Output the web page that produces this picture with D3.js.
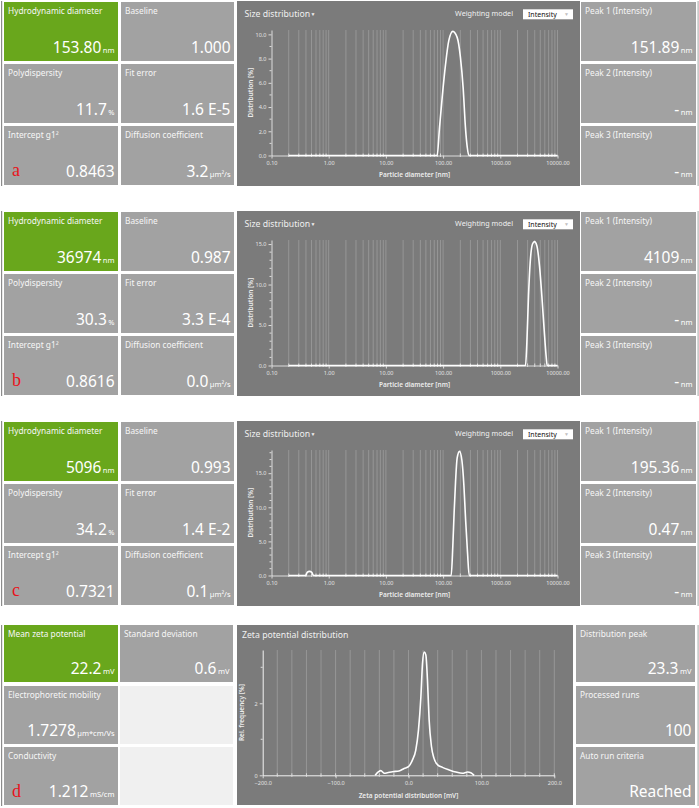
<!DOCTYPE html>
<html>
<head>
<meta charset="utf-8">
<script src="https://cdn.jsdelivr.net/npm/d3@7"></script>
<style>
    body { margin: 0; background: #fff; }
    svg { display: block; font-family: "Noto Sans", sans-serif; }
</style>
</head>
<body>
<svg id="chart" width="699" height="808"></svg>
<script>
    // ---- tile texts ----
    var sizeLabels = ['Hydrodynamic diameter', 'Baseline', 'Polydispersity', 'Fit error', 'Intercept g1²', 'Diffusion coefficient'];
    var peakLabels = ['Peak 1 (Intensity)', 'Peak 2 (Intensity)', 'Peak 3 (Intensity)'];
    var sizeValuesA = [['153.80', 'nm'], ['1.000', ''], ['11.7', '%'], ['1.6 E-5', ''], ['0.8463', ''], ['3.2', 'µm²/s']];
    var sizeValuesB = [['36974', 'nm'], ['0.987', ''], ['30.3', '%'], ['3.3 E-4', ''], ['0.8616', ''], ['0.0', 'µm²/s']];
    var sizeValuesC = [['5096', 'nm'], ['0.993', ''], ['34.2', '%'], ['1.4 E-2', ''], ['0.7321', ''], ['0.1', 'µm²/s']];
    var peakValuesA = [['151.89', 'nm'], ['-', 'nm'], ['-', 'nm']];
    var peakValuesB = [['4109', 'nm'], ['-', 'nm'], ['-', 'nm']];
    var peakValuesC = [['195.36', 'nm'], ['0.47', 'nm'], ['-', 'nm']];
    var zetaLabels = ['Mean zeta potential', 'Standard deviation', 'Electrophoretic mobility', '', 'Conductivity', ''];
    var zetaValues = [['22.2', 'mV'], ['0.6', 'mV'], ['1.7278', 'µm*cm/Vs'], null, ['1.212', 'mS/cm'], null];
    var zetaRightLabels = ['Distribution peak', 'Processed runs', 'Auto run criteria'];
    var zetaRightValues = [['23.3', 'mV'], ['100', ''], ['Reached', '']];
    var panelTags = ['a', 'b', 'c', 'd'];

    // ---- axes ----
    var diamTicks = [0.1, 1, 10, 100, 1000, 10000];
    var distTicksA = [0, 2, 4, 6, 8, 10];
    var distTicksB = [0, 5, 10, 15];
    var distTicksC = [0, 5, 10, 15];
    var distMaxA = 10.36, distMaxB = 15.5, distMaxC = 18.4;
    var zetaTicks = [-200, -100, 0, 100, 200];
    var freqTicks = [0, 2];
    var freqMax = 3.48;

    // ---- series ----
    var diamA = [0.2, 78.7, 86.5, 96.4, 110.2, 126, 148, 176, 201, 224, 246, 264, 282, 10000];
    var distA = [0, 0, 2.3, 4.8, 7.5, 9.5, 10.25, 9.75, 8.1, 5.6, 2.3, 0.7, 0, 0];
    var diamB = [0.2, 2759, 2912, 3113, 3329, 3657, 3963, 4354, 4846, 5324, 5847, 6340, 6592, 10000];
    var distB = [0, 0, 2.8, 8.6, 12.7, 15.0, 15.3, 14.8, 12.3, 8.6, 4.4, 1.1, 0, 0];
    var diamC = [0.2, 0.398, 0.420, 0.461, 0.507, 0.542, 138.4, 148, 156, 165, 176, 193.6, 213, 231, 247, 267, 286, 10000];
    var distC = [0, 0, 0.45, 0.6, 0.45, 0, 0, 4.4, 9.3, 13.7, 17.2, 18.2, 16.9, 13.2, 8.3, 3.4, 0, 0];
    var zetaMv = [-45.7, -41, -38, -33, -29, -22, -13, -6, 0, 5.5, 10, 13.7, 17, 19.2, 21.5, 23.8, 26, 28.3, 31.5, 35, 40, 46.6, 55.8, 65, 74, 81, 85.5, 90];
    var zetaFreq = [0, 0.1, 0.13, 0.055, 0.07, 0.1, 0.12, 0.19, 0.24, 0.43, 0.7, 1.26, 2.18, 3.1, 3.42, 3.34, 2.65, 1.54, 0.8, 0.47, 0.29, 0.22, 0.15, 0.09, 0.055, 0.09, 0.07, 0];

    var GREEN = '#69a71c', TILE = '#a2a2a2', PANEL = '#7b7b7b', EMPTY = '#f0f0f0';
    var svg = d3.select('#chart');

    function tile(x, y, w, h, fill, label, val) {
        svg.append('rect').attr('x', x).attr('y', y).attr('width', w).attr('height', h).attr('fill', fill);
        if (label) {
            svg.append('text').attr('x', x + 4).attr('y', y + 11.5)
                .attr('fill', '#f6f6f6').style('font-size', '8.3px').text(label);
        }
        if (val) {
            var t = svg.append('text').attr('x', x + w - 3.5).attr('y', y + h - 8)
                .attr('text-anchor', 'end').attr('fill', '#fff');
            t.append('tspan').style('font-size', '15.5px').text(val[0]);
            if (val[1]) t.append('tspan').attr('dx', 1.5).style('font-size', '7.5px').text(val[1]);
        }
    }

    function edges(top, h) {
        svg.append('rect').attr('x', 1).attr('y', top).attr('width', 1.2).attr('height', h).attr('fill', '#8c8c8c');
        svg.append('rect').attr('x', 697.5).attr('y', top).attr('width', 1.2).attr('height', h).attr('fill', '#b4b4b4');
    }

    function tag(y, s) {
        svg.append('text').attr('x', 12).attr('y', y).attr('fill', '#e8141c')
            .style('font-family', '"Liberation Serif", serif').style('font-size', '18px').text(s);
    }

    // draws the plot frame, grid, axes and series
    function plot(g, x, y, yTicks, yMinor, xFmt, yFmt, grid, xMinor, xs, ys, xTitle, yTitle, xTitleY) {
        var x0 = x.range()[0], x1 = x.range()[1], yb = y.range()[0], yt = y.range()[1];
        g.selectAll('line.grid').data(grid).enter().append('line')
            .attr('x1', function(d) { return x(d); }).attr('x2', function(d) { return x(d); })
            .attr('y1', yt).attr('y2', yb).attr('stroke', '#9d9d9d').attr('stroke-width', 0.8);

        var ax = g.append('g').attr('transform', 'translate(0,' + yb + ')')
            .call(d3.axisBottom(x).tickValues(xTicksOf(x)).tickFormat(xFmt).tickSize(3).tickSizeOuter(0).tickPadding(3));
        var ay = g.append('g').attr('transform', 'translate(' + x0 + ',0)')
            .call(d3.axisLeft(y).tickValues(yTicks).tickFormat(yFmt).tickSize(3).tickSizeOuter(0).tickPadding(2));
        [ax, ay].forEach(function(a) {
            a.select('.domain').attr('stroke', '#dcdcdc');
            a.selectAll('.tick line').attr('stroke', '#dcdcdc');
            a.selectAll('.tick text').attr('fill', '#e4e4e4').style('font-size', '5.5px').style('font-family', '"Noto Sans", sans-serif');
        });
        g.selectAll('line.xm').data(xMinor).enter().append('line')
            .attr('x1', function(d) { return x(d); }).attr('x2', function(d) { return x(d); })
            .attr('y1', yb - 2).attr('y2', yb + 1.5).attr('stroke', '#dcdcdc');
        g.selectAll('line.ym').data(yMinor).enter().append('line')
            .attr('x1', x0 - 2).attr('x2', x0)
            .attr('y1', function(d) { return y(d); }).attr('y2', function(d) { return y(d); }).attr('stroke', '#dcdcdc');

        var line = d3.line().x(function(d) { return x(d[0]); }).y(function(d) { return y(d[1]); }).curve(d3.curveMonotoneX);
        g.append('path').datum(d3.zip(xs, ys)).attr('d', line)
            .attr('fill', 'none').attr('stroke', '#fff').attr('stroke-width', 1.6);

        g.append('text').attr('x', (x0 + x1) / 2).attr('y', xTitleY).attr('text-anchor', 'middle')
            .attr('fill', '#ececec').style('font-size', '6.5px').style('font-weight', 600).text(xTitle);
        g.append('text').attr('transform', 'translate(' + (x0 - 19) + ',' + ((yt + yb) / 2) + ') rotate(-90)')
            .attr('text-anchor', 'middle').attr('fill', '#ececec').style('font-size', '6.5px').style('font-weight', 600).text(yTitle);
    }

    function xTicksOf(x) {
        return x.type === 'log' ? diamTicks : zetaTicks;
    }

    function minorLog() {
        var m = [];
        for (var e = -1; e < 4; e++) {
            for (var k = 2; k <= 9; k++) m.push(k * Math.pow(10, e));
        }
        return m;
    }

    function sizePanel(top, values, peaks, xs, ys, yTicks, yMax, yMinorStep, letter) {
        edges(top, 185);
        tile(4, top + 1, 114, 59, GREEN, sizeLabels[0], values[0]);
        tile(121, top + 1, 113, 59, TILE, sizeLabels[1], values[1]);
        tile(4, top + 63, 114, 59, TILE, sizeLabels[2], values[2]);
        tile(121, top + 63, 113, 59, TILE, sizeLabels[3], values[3]);
        tile(4, top + 125, 114, 59, TILE, sizeLabels[4], values[4]);
        tile(121, top + 125, 113, 59, TILE, sizeLabels[5], values[5]);
        for (var i = 0; i < 3; i++) tile(581, top + 1 + i * 62, 115, 59, TILE, peakLabels[i], peaks[i]);
        tag(top + 175, letter);

        var g = svg.append('g');
        g.append('rect').attr('x', 237).attr('y', top).attr('width', 343).attr('height', 185).attr('fill', PANEL);
        g.append('text').attr('x', 244.5).attr('y', top + 15.5).attr('fill', '#f0f0f0').style('font-size', '8.7px').text('Size distribution');
        g.append('text').attr('x', 310.5).attr('y', top + 14.5).attr('fill', '#f0f0f0').style('font-size', '5px').text('▼');
        g.append('text').attr('x', 513).attr('y', top + 15).attr('text-anchor', 'end').attr('fill', '#f0f0f0').style('font-size', '7.2px').text('Weighting model');
        g.append('rect').attr('x', 523).attr('y', top + 8.3).attr('width', 50).attr('height', 10).attr('fill', '#fff');
        g.append('text').attr('x', 528).attr('y', top + 15.6).attr('fill', '#111').style('font-size', '7px').text('Intensity');
        g.append('text').attr('x', 564).attr('y', top + 15).attr('fill', '#c0c0c0').style('font-size', '5px').text('▼');

        var x = d3.scaleLog().domain([0.1, 10000]).range([271.5, 557.5]);
        x.type = 'log';
        var y = d3.scaleLinear().domain([0, yMax]).range([top + 154.5, top + 29]);
        var yMinor = d3.range(0, yMax, yMinorStep).filter(function(v) { return yTicks.indexOf(v) < 0; });
        var grid = minorLog().concat([1, 10, 100, 1000, 10000]);
        plot(g, x, y, yTicks, yMinor, d3.format('.2f'), d3.format('.1f'), grid, minorLog(),
            xs, ys, 'Particle diameter [nm]', 'Distribution [%]', top + 175.5);
    }

    sizePanel(1, sizeValuesA, peakValuesA, diamA, distA, distTicksA, distMaxA, 1, panelTags[0]);
    sizePanel(211, sizeValuesB, peakValuesB, diamB, distB, distTicksB, distMaxB, 1, panelTags[1]);
    sizePanel(421, sizeValuesC, peakValuesC, diamC, distC, distTicksC, distMaxC, 1, panelTags[2]);

    // ---- zeta panel ----
    (function() {
        var top = 625;
        edges(top, 181);
        var fills = [GREEN, TILE, TILE, EMPTY, TILE, EMPTY];
        for (var i = 0; i < 6; i++) {
            var col = i % 2, row = Math.floor(i / 2);
            tile(col ? 120 : 4, top + row * 61, col ? 113 : 114, 57 + (row ? 1 : 0), fills[i], zetaLabels[i], zetaValues[i]);
        }
        for (var j = 0; j < 3; j++) tile(576, top + j * 61, 119, 57 + (j ? 1 : 0), TILE, zetaRightLabels[j], zetaRightValues[j]);
        tag(top + 172, panelTags[3]);

        var g = svg.append('g');
        g.append('rect').attr('x', 237).attr('y', top).attr('width', 336).attr('height', 180).attr('fill', PANEL);
        g.append('text').attr('x', 242).attr('y', top + 12.5).attr('fill', '#f0f0f0').style('font-size', '8.7px').text('Zeta potential distribution');

        var x = d3.scaleLinear().domain([-200, 200]).range([262.7, 554.3]);
        var y = d3.scaleLinear().domain([0, freqMax]).range([775.3, 650]);
        var grid = d3.range(-180, 201, 20);
        plot(g, x, y, freqTicks, [1, 3], d3.format('.1f'), d3.format('d'), grid, grid,
            zetaMv, zetaFreq, 'Zeta potential distribution [mV]', 'Rel. frequency [%]', 797.5);
        g.selectAll('.domain').attr('stroke', '#f2f2f2');
    })();
</script>
</body>
</html>
